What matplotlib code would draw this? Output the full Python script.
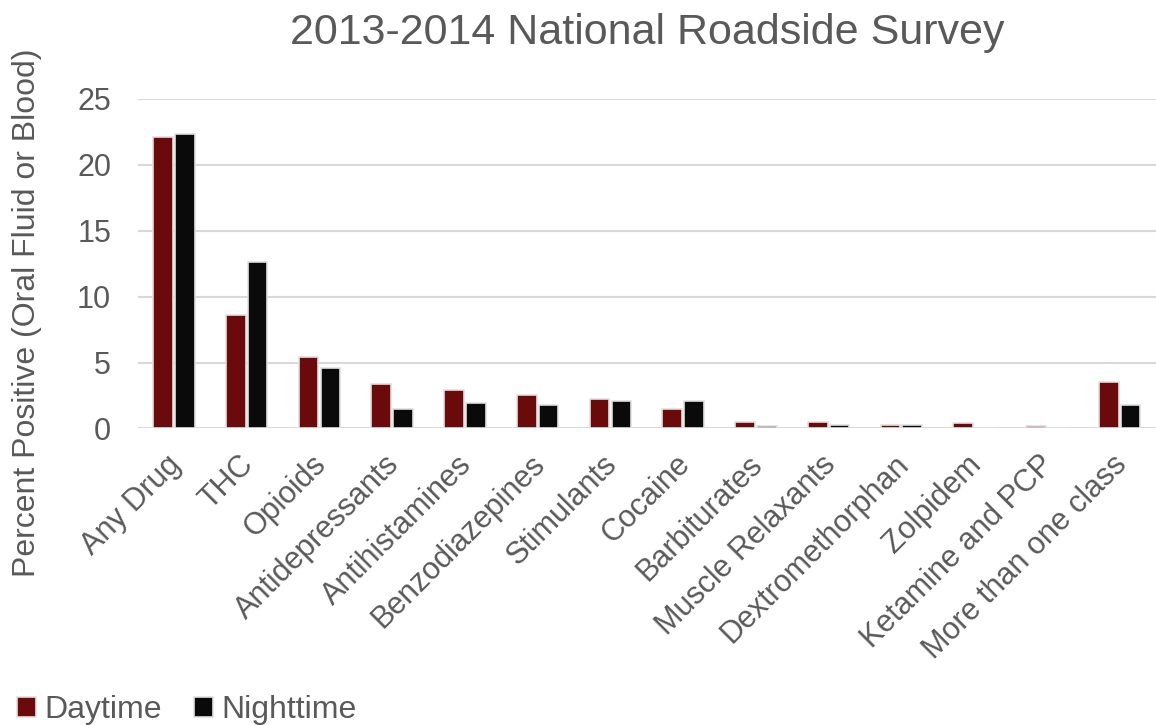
import matplotlib
matplotlib.use("Agg")
import matplotlib.pyplot as plt
import numpy as np

plt.rcParams['font.family'] = ['Liberation Sans', 'DejaVu Sans']

categories = ["Any Drug", "THC", "Opioids", "Antidepressants", "Antihistamines",
              "Benzodiazepines", "Stimulants", "Cocaine", "Barbiturates",
              "Muscle Relaxants", "Dextromethorphan", "Zolpidem",
              "Ketamine and PCP", "More than one class"]
daytime = [22.1, 8.6, 5.4, 3.4, 2.9, 2.5, 2.2, 1.5, 0.5, 0.5, 0.25, 0.4, 0.15, 3.5]
nighttime = [22.3, 12.6, 4.6, 1.5, 1.9, 1.8, 2.1, 2.1, 0.15, 0.3, 0.25, 0.05, 0.0, 1.75]
yticks = [0, 5, 10, 15, 20, 25]

day_color = "#6B0A0A"
night_color = "#0A0A0A"
text_color = "#595959"

fig = plt.figure(figsize=(11.56, 7.25), dpi=100)
ax = fig.add_axes([0.119, 0.409, 0.881, 0.455])

x = np.arange(len(categories))
w = 0.27
ax.bar(x - w / 2 - 0.015, daytime, w, color=day_color, edgecolor="#E0E0E0", linewidth=1.2,
       label="Daytime", zorder=3)
ax.bar(x + w / 2 + 0.015, nighttime, w, color=night_color, edgecolor="#E0E0E0", linewidth=1.2,
       label="Nighttime", zorder=3)

ax.set_xlim(-0.5, len(categories) - 0.5)
ax.set_ylim(0, 25)
ax.set_yticks(yticks)
ax.grid(axis="y", color="#D9D9D9", linewidth=1.5, zorder=0)
for s in ax.spines.values():
    s.set_visible(False)
ax.tick_params(axis="both", length=0, labelsize=22, colors=text_color)
ax.tick_params(axis="y", pad=19)
ax.set_xticks(x)
ax.set_xticklabels(categories, rotation=45, ha="right", rotation_mode="anchor")
for lbl in ax.get_xticklabels():
    lbl.set_transform(lbl.get_transform() + matplotlib.transforms.ScaledTranslation(-0.08, -0.16, fig.dpi_scale_trans))

ax.set_ylabel("Percent Positive (Oral Fluid or Blood)", fontsize=23, color=text_color)
ax.yaxis.set_label_coords(-0.094, 0.35)

# title placed directly (auto-positioning pushes it up because of the ylabel)
fig.text(0.56, 0.954, "2013-2014 National Roadside Survey", fontsize=31, color=text_color,
         ha="center", va="center")

fig.legend(loc="lower left", bbox_to_anchor=(-0.01, -0.04), ncol=2, frameon=False, fontsize=23,
           labelcolor=text_color, handlelength=0.6, handleheight=0.6, handletextpad=0.25,
           columnspacing=1.0)

fig.savefig("out.png", dpi=100)
